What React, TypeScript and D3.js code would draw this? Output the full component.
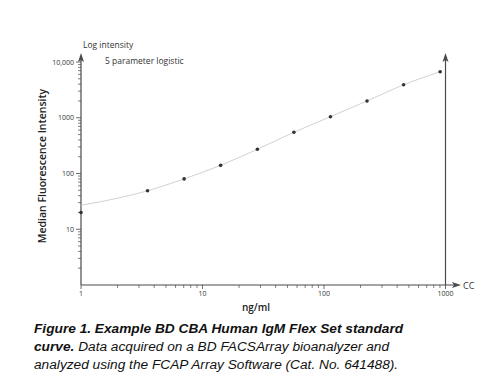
import React, { useEffect, useRef } from 'react';
import * as d3 from 'd3';

// standard concentrations (ng/ml) and measured MFI
const conc = [1, 3.53, 7.06, 14.1, 28.3, 56.5, 113, 226, 452, 904];
const mfi = [20, 49, 80, 140, 272, 548, 1045, 2000, 3900, 6700];

// fitted 5PL curve
const fitConc = [1, 2, 3.53, 7.06, 14.1, 28.3, 56.5, 113, 226, 452, 904];
const fitMfi = [27, 36, 49, 80, 140, 272, 548, 1045, 2000, 3900, 6700];

const yTicks = [10, 100, 1000, 10000];
const yTickLabels = ['10', '100', '1000', '10,000'];
const xTicks = [1, 10, 100, 1000];

export default function App() {
  const ref = useRef<SVGSVGElement>(null);

  useEffect(() => {
    const svg = d3.select(ref.current);
    svg.selectAll('*').remove();

    const axisColor = '#4a4a4a';
    const x = d3.scaleLog().domain([1, 1000]).range([81, 445.5]);
    const y = d3.scaleLog().domain([1, 10000]).range([285, 62]);
    const x0 = x(1), y0 = y(1);

    const g = svg.append('g');

    // minor ticks
    const yMinor: number[] = [];
    const xMinor: number[] = [];
    [1, 10, 100, 1000].forEach((d) => {
      for (let k = 2; k <= 9; k++) yMinor.push(d * k);
    });
    [1, 10, 100].forEach((d) => {
      for (let k = 2; k <= 9; k++) xMinor.push(d * k);
    });

    g.selectAll('.ymin').data(yMinor).enter().append('line')
      .attr('x1', x0 - 3).attr('x2', x0)
      .attr('y1', (d) => y(d)).attr('y2', (d) => y(d))
      .attr('stroke', axisColor).attr('stroke-width', 0.7);
    g.selectAll('.ymaj').data(yTicks).enter().append('line')
      .attr('x1', x0 - 5).attr('x2', x0)
      .attr('y1', (d) => y(d)).attr('y2', (d) => y(d))
      .attr('stroke', axisColor).attr('stroke-width', 0.8);
    g.selectAll('.ylab').data(yTicks).enter().append('text')
      .attr('x', x0 - 7).attr('y', (d) => y(d) + 2.5)
      .attr('text-anchor', 'end')
      .attr('font-family', 'Open Sans, sans-serif').attr('font-size', 7)
      .attr('fill', '#333')
      .text((d, i) => yTickLabels[i]);

    g.selectAll('.xmin').data(xMinor).enter().append('line')
      .attr('x1', (d) => x(d)).attr('x2', (d) => x(d))
      .attr('y1', y0).attr('y2', y0 + 3)
      .attr('stroke', axisColor).attr('stroke-width', 0.7);
    g.selectAll('.xmaj').data(xTicks).enter().append('line')
      .attr('x1', (d) => x(d)).attr('x2', (d) => x(d))
      .attr('y1', y0).attr('y2', y0 + 4)
      .attr('stroke', axisColor).attr('stroke-width', 0.8);
    g.selectAll('.xlab').data(xTicks).enter().append('text')
      .attr('x', (d) => x(d)).attr('y', y0 + 11)
      .attr('text-anchor', 'middle')
      .attr('font-family', 'Open Sans, sans-serif').attr('font-size', 7)
      .attr('fill', '#333')
      .text((d) => String(d));

    // axes lines
    const top = 53;
    g.append('line').attr('x1', x0).attr('x2', x0).attr('y1', y0).attr('y2', top + 3)
      .attr('stroke', axisColor).attr('stroke-width', 1.2);
    g.append('line').attr('x1', x(1000)).attr('x2', x(1000)).attr('y1', y0).attr('y2', top + 3)
      .attr('stroke', axisColor).attr('stroke-width', 1.2);
    g.append('line').attr('x1', x0).attr('x2', 458).attr('y1', y0).attr('y2', y0)
      .attr('stroke', axisColor).attr('stroke-width', 1.2);

    const arrow = 'M0,0 L-3,9 L0,7 L3,9 Z';
    g.append('path').attr('d', arrow).attr('fill', axisColor)
      .attr('transform', `translate(${x0},${top})`);
    g.append('path').attr('d', arrow).attr('fill', axisColor)
      .attr('transform', `translate(${x(1000)},${top})`);
    g.append('path').attr('d', arrow).attr('fill', axisColor)
      .attr('transform', `translate(461,${y0}) rotate(90)`);

    g.append('text').attr('x', 463).attr('y', y0 + 3.5)
      .attr('font-family', 'Open Sans, sans-serif').attr('font-size', 9)
      .attr('fill', '#333').text('CC');

    // fitted curve
    const line = d3.line<number>()
      .x((d, i) => x(fitConc[i]))
      .y((d) => y(d))
      .curve(d3.curveMonotoneX);
    g.append('path').attr('d', line(fitMfi))
      .attr('fill', 'none').attr('stroke', '#cccccc').attr('stroke-width', 0.9);

    // standards
    g.selectAll('.pt').data(mfi).enter().append('circle')
      .attr('cx', (d, i) => x(conc[i])).attr('cy', (d) => y(d))
      .attr('r', 1.8).attr('fill', '#333');

    // labels
    g.append('text').attr('x', 83).attr('y', 48)
      .attr('font-family', 'Open Sans, sans-serif').attr('font-size', 8.5)
      .attr('fill', '#333').text('Log intensity');
    g.append('text').attr('x', 105).attr('y', 64)
      .attr('font-family', 'Open Sans, sans-serif').attr('font-size', 8.5)
      .attr('fill', '#333').text('5 parameter logistic');
    g.append('text')
      .attr('transform', 'translate(46,166) rotate(-90)')
      .attr('text-anchor', 'middle')
      .attr('font-family', 'Open Sans, sans-serif').attr('font-size', 10.5)
      .attr('font-weight', 600).attr('fill', '#222')
      .text('Median Fluorescence Intensity');
    g.append('text').attr('x', 256).attr('y', 311)
      .attr('text-anchor', 'middle')
      .attr('font-family', 'Open Sans, sans-serif').attr('font-size', 10)
      .attr('font-weight', 600).attr('fill', '#222').text('ng/ml');

    // caption
    const cap = svg.append('text')
      .attr('font-family', 'Liberation Sans, Arial, sans-serif')
      .attr('font-size', 13.7).attr('font-style', 'italic').attr('fill', '#111');
    cap.append('tspan').attr('x', 34).attr('y', 333).attr('font-weight', 'bold')
      .text('Figure 1. Example BD CBA Human IgM Flex Set standard');
    cap.append('tspan').attr('x', 34).attr('y', 351).attr('font-weight', 'bold').text('curve.');
    cap.append('tspan').text(' Data acquired on a BD FACSArray bioanalyzer and');
    cap.append('tspan').attr('x', 34).attr('y', 369)
      .text('analyzed using the FCAP Array Software (Cat. No. 641488).');
  }, []);

  return (
    <svg ref={ref} width={491} height={387}
      style={{ position: 'absolute', left: 0, top: 0, background: '#fff' }} />
  );
}
